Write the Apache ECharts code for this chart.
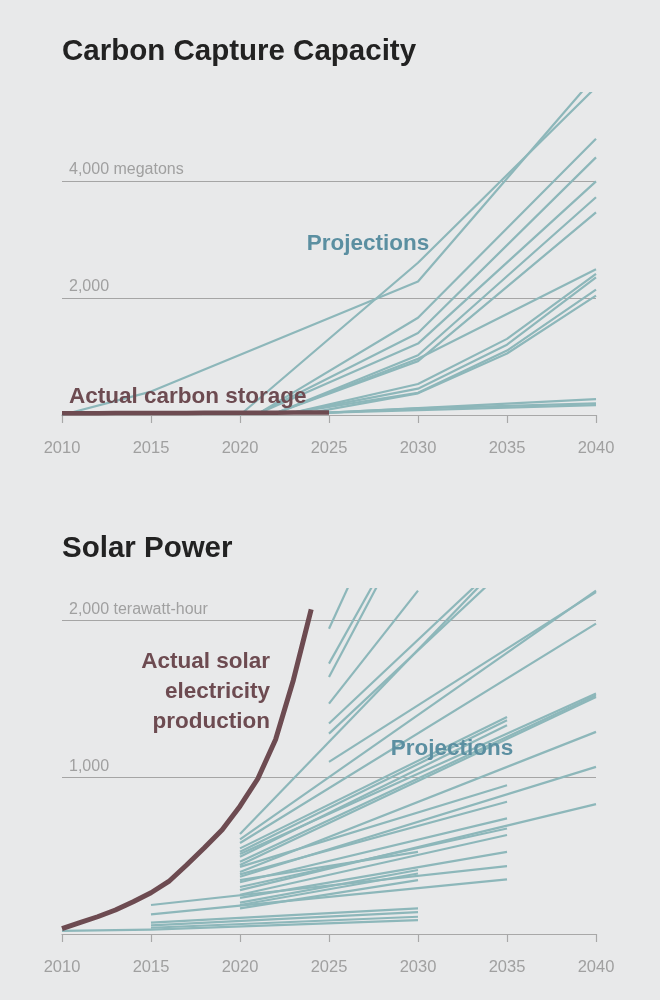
<!DOCTYPE html>
<html>
<head>
<meta charset="utf-8">
<script src="https://cdn.jsdelivr.net/npm/echarts@6/dist/echarts.min.js"></script>
<style>
html, body { margin: 0; padding: 0; background: #e8e9ea; }
#chart { width: 660px; height: 1000px; }
</style>
</head>
<body>
<div id="chart"></div>
<script>
// tick labels
var carbonTicks = [2000, 4000];
var carbonTickLabels = ['2,000', '4,000 megatons'];
var solarTicks = [1000, 2000];
var solarTickLabels = ['1,000', '2,000 terawatt-hour'];

// carbon capture: actual storage (megatons)
var carbonActualYears = [2010, 2011, 2012, 2013, 2014, 2015, 2016, 2017, 2018, 2019, 2020, 2021, 2022, 2023, 2024, 2025];
var carbonActual = [30, 31, 32, 33, 34, 35, 36, 36, 37, 38, 38, 39, 40, 41, 42, 44];

// carbon capture: projections, [year, megatons]
var carbonProjections = [
    [[2010, 0], [2015, 400], [2030, 2280], [2040, 5800]],
    [[2020, 0], [2030, 2600], [2040, 5600]],
    [[2021, 20], [2030, 1660], [2040, 4720]],
    [[2021, 20], [2030, 1400], [2040, 4400]],
    [[2021, 20], [2030, 1220], [2040, 3990]],
    [[2022, 30], [2030, 1020], [2040, 3720]],
    [[2022, 30], [2030, 920], [2040, 3460]],
    [[2022, 30], [2030, 960], [2040, 2490]],
    [[2023, 40], [2030, 530], [2035, 1300], [2040, 2410]],
    [[2023, 40], [2030, 450], [2035, 1200], [2040, 2350]],
    [[2023, 40], [2030, 380], [2035, 1100], [2040, 2140]],
    [[2024, 40], [2030, 370], [2035, 1050], [2040, 2040]],
    [[2025, 40], [2040, 270]],
    [[2025, 40], [2030, 113], [2040, 200]],
    [[2025, 40], [2040, 170]]
];

// solar: actual electricity production (TWh)
var solarActualYears = [2010, 2011, 2012, 2013, 2014, 2015, 2016, 2017, 2018, 2019, 2020, 2021, 2022, 2023, 2024];
var solarActual = [34, 72, 110, 153, 206, 263, 335, 440, 550, 665, 815, 990, 1240, 1620, 2070];

// solar: projections, [year, TWh]
var solarProjections = [
    [[2010, 20], [2015, 28], [2030, 89]],
    [[2015, 40], [2030, 110]],
    [[2015, 55], [2030, 140]],
    [[2015, 72], [2030, 164]],
    [[2015, 125], [2035, 348]],
    [[2015, 185], [2035, 433]],
    [[2020, 637], [2035, 2400]],
    [[2020, 603], [2040, 2190]],
    [[2020, 580], [2040, 1979]],
    [[2020, 546], [2035, 1384]],
    [[2020, 524], [2035, 1363]],
    [[2020, 510], [2040, 1533]],
    [[2020, 492], [2035, 1331]],
    [[2020, 460], [2040, 1522]],
    [[2020, 440], [2040, 1511]],
    [[2020, 428], [2035, 949]],
    [[2020, 396], [2040, 1289]],
    [[2020, 380], [2035, 843]],
    [[2020, 365], [2040, 1066]],
    [[2020, 344], [2030, 524]],
    [[2020, 330], [2035, 737]],
    [[2020, 300], [2035, 673]],
    [[2020, 280], [2040, 828]],
    [[2020, 250], [2035, 631]],
    [[2020, 230], [2035, 524]],
    [[2020, 200], [2030, 408]],
    [[2020, 185], [2030, 386]],
    [[2020, 163], [2030, 344]],
    [[2025, 1947], [2030, 3180]],
    [[2025, 1724], [2030, 2740]],
    [[2025, 1639], [2030, 2710]],
    [[2025, 1469], [2030, 2190]],
    [[2025, 1342], [2035, 2410]],
    [[2025, 1278], [2035, 2340]],
    [[2025, 1098], [2040, 2180]]
];

var projColor = '#8db7ba';
var actualColor = '#6d4b51';
var labelColor = '#5b8fa1';
var axisGrey = '#a8a8a8';
var textGrey = '#a0a0a0';
var font = 'Liberation Sans';

function pairs(xs, ys) {
    return xs.map(function (x, i) { return [x, ys[i]]; });
}

function lineSeries(points, idx, color, width, z) {
    return {
        type: 'line',
        xAxisIndex: idx,
        yAxisIndex: idx,
        data: points,
        symbol: 'none',
        showSymbol: false,
        silent: true,
        clip: true,
        z: z,
        lineStyle: { color: color, width: width, cap: 'butt', join: 'round' }
    };
}

function xAxis(idx) {
    return {
        type: 'value',
        gridIndex: idx,
        min: 2010,
        max: 2040,
        interval: 5,
        axisLine: { show: true, lineStyle: { color: axisGrey, width: 1.2 } },
        axisTick: { show: true, length: 8, lineStyle: { color: axisGrey, width: 1.2 } },
        axisLabel: {
            color: textGrey, fontSize: 16.5, fontFamily: font, margin: 25,
            formatter: function (v) { return String(v); }
        },
        splitLine: { show: false }
    };
}

function yAxis(idx, max, interval, ticks, labels) {
    return {
        type: 'value',
        gridIndex: idx,
        min: 0,
        max: max,
        interval: interval,
        axisLine: { show: false },
        axisTick: { show: false },
        axisLabel: {
            inside: true,
            margin: 7,
            color: textGrey,
            fontSize: 16,
            fontFamily: font,
            verticalAlign: 'bottom',
            padding: [0, 0, 3, 0],
            formatter: function (v) {
                var i = ticks.indexOf(v);
                return i < 0 ? '' : labels[i];
            }
        },
        splitLine: {
            show: true,
            lineStyle: { color: ['rgba(0,0,0,0)', '#a5a5a5', '#a5a5a5', 'rgba(0,0,0,0)'], width: 1 }
        }
    };
}

var series = [];
carbonProjections.forEach(function (p) { series.push(lineSeries(p, 0, projColor, 2.2, 2)); });
series.push(lineSeries(pairs(carbonActualYears, carbonActual), 0, actualColor, 4.5, 5));
solarProjections.forEach(function (p) { series.push(lineSeries(p, 1, projColor, 2.2, 2)); });
series.push(lineSeries(pairs(solarActualYears, solarActual), 1, actualColor, 5, 5));

// y given as text baseline; bottom of box sits ~5px lower
function label(text, x, y, color, align) {
    return {
        type: 'text',
        z: 100,
        silent: true,
        style: {
            text: text,
            x: x,
            y: y + 5,
            fill: color,
            font: 'bold 22.5px "' + font + '"',
            textAlign: align,
            textVerticalAlign: 'bottom'
        }
    };
}

var chart = echarts.init(document.getElementById('chart'));
var option = {
    backgroundColor: '#e8e9ea',
    animation: false,
    title: [
        { text: 'Carbon Capture Capacity', left: 57, top: 32,
          textStyle: { fontFamily: font, fontSize: 29.5, fontWeight: 'bold', color: '#222222' } },
        { text: 'Solar Power', left: 57, top: 529,
          textStyle: { fontFamily: font, fontSize: 29.5, fontWeight: 'bold', color: '#222222' } }
    ],
    grid: [
        { left: 62, top: 93, width: 534, height: 322 },
        { left: 62, top: 589, width: 534, height: 345 }
    ],
    xAxis: [xAxis(0), xAxis(1)],
    yAxis: [
        yAxis(0, 5500, 2000, carbonTicks, carbonTickLabels),
        yAxis(1, 2200, 1000, solarTicks, solarTickLabels)
    ],
    graphic: [
        label('Projections', 368, 250, labelColor, 'center'),
        label('Actual carbon storage', 69, 403, actualColor, 'left'),
        label('Actual solar', 270, 668, actualColor, 'right'),
        label('electricity', 270, 698, actualColor, 'right'),
        label('production', 270, 728, actualColor, 'right'),
        label('Projections', 452, 755, labelColor, 'center')
    ],
    series: series
};
chart.setOption(option);
</script>
</body>
</html>
